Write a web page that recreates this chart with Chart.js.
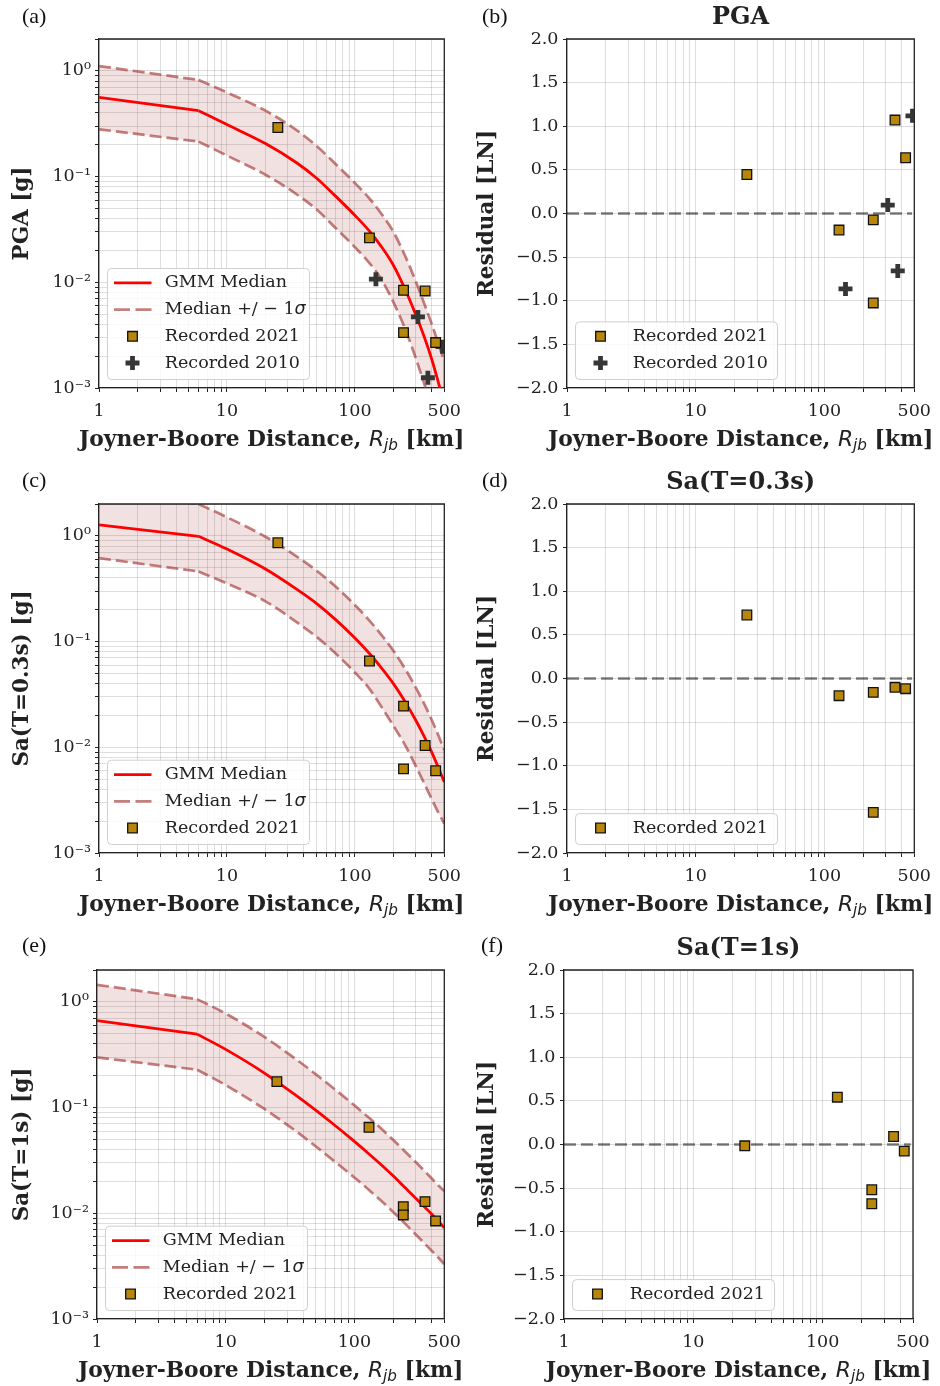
<!DOCTYPE html>
<html><head><meta charset="utf-8">
<script src="https://cdn.jsdelivr.net/npm/chart.js@4.4.1/dist/chart.umd.min.js"></script>
<style>
html,body{margin:0;padding:0;background:#fff;}
body{width:940px;height:1386px;position:relative;overflow:hidden;}
canvas{position:absolute;display:block;}
.tag{position:absolute;font-family:'Liberation Serif',serif;font-size:22px;line-height:22px;color:#111;}
</style></head><body>
<canvas id="ca" width="470" height="465" style="left:0;top:0;width:470px;height:465px"></canvas>
<canvas id="cb" width="470" height="465" style="left:470px;top:0;width:470px;height:465px"></canvas>
<canvas id="cc" width="470" height="465" style="left:0;top:465px;width:470px;height:465px"></canvas>
<canvas id="cd" width="470" height="465" style="left:470px;top:465px;width:470px;height:465px"></canvas>
<canvas id="ce" width="470" height="456" style="left:0;top:930px;width:470px;height:456px"></canvas>
<canvas id="cf" width="470" height="456" style="left:470px;top:930px;width:470px;height:456px"></canvas>
<div class="tag" style="left:22px;top:5px">(a)</div>
<div class="tag" style="left:482px;top:5px">(b)</div>
<div class="tag" style="left:22px;top:469px">(c)</div>
<div class="tag" style="left:482px;top:469px">(d)</div>
<div class="tag" style="left:22px;top:934px">(e)</div>
<div class="tag" style="left:481px;top:934px">(f)</div>
<script>
// ---------------- data ----------------
// distance samples for the GMM curves (km); the first two points form the near-source plateau
const rGrid = [1, 6, 10, 20, 35, 50, 70, 100, 130, 160, 200, 250, 300, 350, 400, 450, 500];

const pgaMedian = [0.56, 0.42, 0.31, 0.205, 0.135, 0.097, 0.066, 0.043, 0.0305, 0.022, 0.0145, 0.0083, 0.0049, 0.0030, 0.00185, 0.00112, 0.00070];
const pgaUpper  = [1.11, 0.82, 0.625, 0.42, 0.275, 0.195, 0.133, 0.087, 0.062, 0.045, 0.030, 0.0172, 0.0101, 0.0062, 0.0040, 0.0026, 0.0018];
const pgaLower  = [0.28, 0.214, 0.158, 0.104, 0.068, 0.049, 0.033, 0.0215, 0.0152, 0.0108, 0.0065, 0.0035, 0.0019, 0.00108, 0.00065, 0.0004, 0.00026];

const sa03Median = [1.27, 0.99, 0.75, 0.485, 0.313, 0.23, 0.163, 0.108, 0.077, 0.057, 0.040, 0.0263, 0.0179, 0.0125, 0.0089, 0.0064, 0.0047];
const sa03Upper  = [2.55, 2.0, 1.5, 0.98, 0.64, 0.47, 0.335, 0.222, 0.158, 0.117, 0.082, 0.054, 0.0365, 0.0255, 0.018, 0.0129, 0.0094];
const sa03Lower  = [0.615, 0.46, 0.355, 0.24, 0.153, 0.111, 0.078, 0.051, 0.0357, 0.0245, 0.016, 0.0102, 0.0066, 0.0045, 0.0032, 0.0024, 0.0019];

const sa1Median = [0.665, 0.495, 0.355, 0.212, 0.131, 0.0944, 0.0684, 0.0479, 0.0364, 0.0291, 0.0226, 0.0173, 0.0139, 0.0115, 0.0098, 0.0084, 0.0073];
const sa1Upper  = [1.45, 1.06, 0.775, 0.465, 0.288, 0.207, 0.15, 0.105, 0.08, 0.064, 0.0495, 0.038, 0.0305, 0.0252, 0.0213, 0.0183, 0.0162];
const sa1Lower  = [0.298, 0.228, 0.163, 0.097, 0.060, 0.043, 0.031, 0.0218, 0.0166, 0.0133, 0.0103, 0.0079, 0.0063, 0.0052, 0.0044, 0.0038, 0.0033];

const rjb2021 = [25, 130, 240, 240, 354, 428];
const pga2021 = [0.291, 0.0263, 0.0084, 0.00334, 0.00828, 0.00269];
const sa03_2021 = [0.86, 0.0655, 0.0245, 0.00625, 0.0104, 0.0060];
const sa1_2021 = [0.176, 0.065, 0.01156, 0.00964, 0.0129, 0.00846];

const rjb2010 = [146, 311, 372, 484];
const pga2010 = [0.0107, 0.0047, 0.00125, 0.00246];

const resPga2021 = [0.447, -0.19, -0.073, -1.025, 1.071, 0.639];
const resPga2010 = [-0.864, 0.096, -0.658, 1.12];
const resSa03_2021 = [0.728, -0.197, -0.159, -1.534, -0.101, -0.117];
const resSa1_2021 = [-0.015, 0.542, -0.519, -0.679, 0.092, -0.076];

const zeroLineX = [1, 480];
const zeroLineY = [0, 0];

const xTickVals = [1, 10, 100, 500];
const xTickLabels = ['1', '10', '100', '500'];
const yLogTickVals = [0.001, 0.01, 0.1, 1];
const yLogTickLabels = ['10\u207B\u00B3', '10\u207B\u00B2', '10\u207B\u00B9', '10\u2070'];
const resTickVals = [-2, -1.5, -1, -0.5, 0, 0.5, 1, 1.5, 2];
const resTickLabels = ['\u22122.0', '\u22121.5', '\u22121.0', '\u22120.5', '0.0', '0.5', '1.0', '1.5', '2.0'];

// ---------------- styles ----------------
const SERIF = "'DejaVu Serif', serif";
const GRID = 'rgba(0,0,0,0.13)';
const INK = '#222';
const TICKFONT = {family: SERIF, size: 17.5};
const GOLD = '#b8860b';
const BAND = 'rgba(165,42,42,0.14)';
const DASHC = 'rgba(160,48,48,0.62)';
const DASH = [12, 5];
const KINK = 2; // the curves are straight up to rGrid[1], smooth afterwards

function pts(xs, ys) { return xs.map((x, i) => ({x: x, y: ys[i]})); }

function logGridValues(lo, hi) {
  const out = [];
  for (let e = -4; e <= 3; e++) {
    for (let m = 1; m <= 9; m++) {
      const v = m * Math.pow(10, e);
      if (v >= lo * (1 - 1e-9) && v <= hi * (1 + 1e-9)) out.push(v);
    }
  }
  return out;
}
function matchLabel(v, vals, labels) {
  for (let i = 0; i < vals.length; i++) {
    if (Math.abs(v - vals[i]) / Math.abs(vals[i] || 1) < 1e-6) return labels[i];
  }
  return '';
}

function xScale(height) {
  return {
    type: 'logarithmic', min: 1, max: 500, bounds: 'data',
    afterBuildTicks: s => {
      s.ticks = logGridValues(1, 500).map(v => ({value: v, lbl: matchLabel(v, xTickVals, xTickLabels)}));
    },
    ticks: {autoSkip: false, maxRotation: 0, minRotation: 0, padding: 9, font: TICKFONT, color: INK,
      callback: (v, i, t) => t[i].lbl},
    grid: {color: GRID, lineWidth: 1, tickLength: 4, tickColor: INK, tickWidth: 1},
    border: {color: INK, width: 1.3},
    title: {display: false},
    afterFit: s => { s.height = height; }
  };
}
function yLogScale(width, title) {
  return {
    type: 'logarithmic', min: 0.001, max: 2, bounds: 'data',
    afterBuildTicks: s => {
      s.ticks = logGridValues(0.001, 2).map(v => ({value: v, lbl: matchLabel(v, yLogTickVals, yLogTickLabels)}));
    },
    ticks: {autoSkip: false, padding: 4, font: TICKFONT, color: INK, callback: (v, i, t) => t[i].lbl},
    grid: {color: GRID, lineWidth: 1, tickLength: 4, tickColor: INK, tickWidth: 1},
    border: {color: INK, width: 1.3},
    title: {display: true, text: title, color: INK, font: {family: SERIF, size: 21.5, weight: 'bold'}, padding: {top: 9.5, bottom: 0}},
    afterFit: s => { s.width = width; }
  };
}
function yResScale(width) {
  return {
    type: 'linear', min: -2, max: 2,
    afterBuildTicks: s => {
      s.ticks = resTickVals.map((v, i) => ({value: v, lbl: resTickLabels[i]}));
    },
    ticks: {autoSkip: false, padding: 4.5, font: TICKFONT, color: INK, callback: (v, i, t) => t[i].lbl},
    grid: {color: GRID, lineWidth: 1, tickLength: 4, tickColor: INK, tickWidth: 1},
    border: {color: INK, width: 1.3},
    title: {display: true, text: 'Residual [LN]', color: INK, font: {family: SERIF, size: 21.5, weight: 'bold'}, padding: {top: 5, bottom: 0}},
    afterFit: s => { s.width = width; }
  };
}

function squareDs(label, xs, ys) {
  return {label: label, data: pts(xs, ys), showLine: false, inLegend: true, order: 0,
    pointStyle: 'rect', pointRadius: 6.8, pointBackgroundColor: GOLD, pointBorderColor: '#111', pointBorderWidth: 1.3,
    borderColor: '#111', backgroundColor: GOLD};
}
function crossDs(label, xs, ys) {
  return {label: label, data: pts(xs, ys), showLine: false, inLegend: true, order: 0,
    pointStyle: 'cross', pointRadius: 7, pointBorderColor: '#363636', pointBorderWidth: 4.8,
    borderColor: '#363636', backgroundColor: '#363636'};
}

// ---------------- drawing helpers ----------------
function drawMarker(ctx, ds, x, y) {
  ctx.save();
  if (ds.pointStyle === 'rect') {
    const h = ds.pointRadius * Math.SQRT1_2;
    ctx.fillStyle = ds.pointBackgroundColor;
    ctx.strokeStyle = ds.pointBorderColor;
    ctx.lineWidth = ds.pointBorderWidth;
    ctx.beginPath(); ctx.rect(x - h, y - h, 2 * h, 2 * h); ctx.fill(); ctx.stroke();
  } else {
    const r = ds.pointRadius;
    ctx.strokeStyle = ds.pointBorderColor;
    ctx.lineWidth = ds.pointBorderWidth;
    ctx.beginPath(); ctx.moveTo(x - r, y); ctx.lineTo(x + r, y); ctx.moveTo(x, y - r); ctx.lineTo(x, y + r); ctx.stroke();
  }
  ctx.restore();
}
function drawLabelText(ctx, text, x, y) {
  const idx = text.indexOf('\u03C3');
  ctx.font = `17.5px ${SERIF}`;
  ctx.fillStyle = INK;
  ctx.textBaseline = 'middle';
  ctx.textAlign = 'left';
  if (idx < 0) { ctx.fillText(text, x, y); return; }
  const a = text.slice(0, idx);
  ctx.fillText(a, x, y);
  const w = ctx.measureText(a).width;
  ctx.font = `italic 17.5px 'DejaVu Sans', sans-serif`;
  ctx.fillText('\u03C3', x + w, y);
}
function drawXTitle(ctx, cx, cy) {
  const size = 21.8;
  const parts = [
    ['Joyner-Boore Distance, ', `bold ${size}px ${SERIF}`, 0],
    ['R', `italic ${size}px 'DejaVu Sans', sans-serif`, 0],
    ['jb', `italic ${size * 0.7}px 'DejaVu Sans', sans-serif`, 5],
    [' [km]', `bold ${size}px ${SERIF}`, 0]
  ];
  ctx.save();
  ctx.fillStyle = INK;
  ctx.textBaseline = 'middle';
  ctx.textAlign = 'left';
  let total = 0;
  const ws = parts.map(p => { ctx.font = p[1]; const w = ctx.measureText(p[0]).width; total += w; return w; });
  let x = cx - total / 2;
  parts.forEach((p, i) => { ctx.font = p[1]; ctx.fillText(p[0], x, cy + p[2]); x += ws[i]; });
  ctx.restore();
}

function drawLegend(ctx, ca, items) {
  const n = items.length;
  const L = ca.left + 8.5, B = ca.bottom - 8.5, W = 202;
  const H = 30.9 + (n - 1) * 26.7, T = B - H;
  ctx.save();
  ctx.beginPath();
  if (ctx.roundRect) ctx.roundRect(L, T, W, H, 4); else ctx.rect(L, T, W, H);
  ctx.fillStyle = 'rgba(255,255,255,0.82)';
  ctx.fill();
  ctx.strokeStyle = '#cfcfcf';
  ctx.lineWidth = 1;
  ctx.stroke();
  items.forEach((ds, i) => {
    const cy = T + 14.4 + i * 26.7;
    if (ds.showLine === false) {
      drawMarker(ctx, ds, L + 25, cy);
    } else {
      ctx.save();
      ctx.beginPath();
      ctx.setLineDash(ds.legendDash || ds.borderDash || []);
      ctx.strokeStyle = ds.borderColor;
      ctx.lineWidth = ds.borderWidth;
      ctx.moveTo(L + 6.5, cy); ctx.lineTo(L + 44, cy);
      ctx.stroke();
      ctx.restore();
    }
    drawLabelText(ctx, ds.label, L + 57.3, cy);
  });
  ctx.restore();
}

const decor = {
  id: 'decor',
  afterDatasetsDraw(chart) {
    const items = chart.data.datasets.filter(d => d.inLegend)
      .sort((a, b) => (a.legendRank || 0) - (b.legendRank || 0));
    drawLegend(chart.ctx, chart.chartArea, items);
  },
  afterDraw(chart) {
    const ctx = chart.ctx, ca = chart.chartArea;
    ctx.save();
    ctx.strokeStyle = INK; ctx.lineWidth = 1.3;
    ctx.beginPath();
    ctx.moveTo(ca.left, ca.top); ctx.lineTo(ca.right, ca.top); ctx.lineTo(ca.right, ca.bottom);
    ctx.stroke();
    ctx.restore();
    drawXTitle(ctx, (ca.left + ca.right) / 2, ca.bottom + 52.7);
  }
};

function leftPanel(id, yTitle, median, upper, lower, extra, g) {
  const nearR = rGrid.slice(0, KINK), farR = rGrid.slice(KINK - 1);
  const band = (ys, part) => part === 'near' ? pts(nearR, ys.slice(0, KINK)) : pts(farR, ys.slice(KINK - 1));
  const dashed = {borderColor: DASHC, borderWidth: 2.7, borderDash: DASH, pointRadius: 0, order: 3};
  const datasets = [
    Object.assign({label: 'upper near', data: band(upper, 'near'), fill: '+1', backgroundColor: BAND}, dashed),
    Object.assign({label: 'lower near', data: band(lower, 'near'), fill: false}, dashed),
    Object.assign({label: 'Median +/ \u2212 1\u03C3', data: band(upper, 'far'), fill: '+1', backgroundColor: BAND,
      cubicInterpolationMode: 'monotone', legendDash: [16, 5.5], inLegend: true, legendRank: 1}, dashed),
    Object.assign({label: 'lower far', data: band(lower, 'far'), fill: false, cubicInterpolationMode: 'monotone'}, dashed),
    {label: 'median near', data: band(median, 'near'), borderColor: '#ff0000', borderWidth: 2.8, pointRadius: 0,
      fill: false, order: 2},
    {label: 'GMM Median', data: band(median, 'far'), borderColor: '#ff0000', borderWidth: 2.8, pointRadius: 0,
      cubicInterpolationMode: 'monotone', fill: false, order: 2, inLegend: true, legendRank: 0}
  ];
  extra.forEach((d, i) => { d.legendRank = 2 + i; datasets.push(d); });
  return new Chart(document.getElementById(id), {
    type: 'line',
    data: {datasets: datasets},
    options: {
      responsive: false, animation: false, events: [],
      layout: {padding: {top: g.top, right: g.pr, left: 0, bottom: 0}},
      plugins: {legend: {display: false}, tooltip: {enabled: false}, title: {display: false}},
      scales: {x: xScale(g.xh), y: yLogScale(g.yw, yTitle)}
    },
    plugins: [decor]
  });
}

function rightPanel(id, title, extra, g) {
  const datasets = [
    {label: 'zero', data: pts(zeroLineX, zeroLineY), borderColor: 'rgba(0,0,0,0.5)', borderWidth: 2.7, borderDash: DASH,
      pointRadius: 0, fill: false, order: 3, inLegend: false}
  ];
  extra.forEach((d, i) => { d.legendRank = i; datasets.push(d); });
  return new Chart(document.getElementById(id), {
    type: 'line',
    data: {datasets: datasets},
    options: {
      responsive: false, animation: false, events: [],
      layout: {padding: {top: 0, right: g.pr, left: 0, bottom: 0}},
      plugins: {legend: {display: false}, tooltip: {enabled: false},
        title: {display: true, text: title, fullSize: false, color: INK,
          font: {family: SERIF, size: 24, weight: 'bold', lineHeight: 1.2},
          padding: {top: g.tt, bottom: g.tb}}},
      scales: {x: xScale(g.xh), y: yResScale(g.yw)}
    },
    plugins: [decor]
  });
}

// ---------------- panels ----------------
leftPanel('ca', 'PGA [g]', pgaMedian, pgaUpper, pgaLower,
  [squareDs('Recorded 2021', rjb2021, pga2021), crossDs('Recorded 2010', rjb2010, pga2010)],
  {top: 39, pr: 24, yw: 99, xh: 77});
rightPanel('cb', 'PGA',
  [squareDs('Recorded 2021', rjb2021, resPga2021), crossDs('Recorded 2010', rjb2010, resPga2010)],
  {tt: 3, tb: 7.2, pr: 25, yw: 97, xh: 77});
leftPanel('cc', 'Sa(T=0.3s) [g]', sa03Median, sa03Upper, sa03Lower,
  [squareDs('Recorded 2021', rjb2021, sa03_2021)],
  {top: 39, pr: 24, yw: 99, xh: 77});
rightPanel('cd', 'Sa(T=0.3s)',
  [squareDs('Recorded 2021', rjb2021, resSa03_2021)],
  {tt: 3, tb: 7.2, pr: 25, yw: 97, xh: 77});
leftPanel('ce', 'Sa(T=1s) [g]', sa1Median, sa1Upper, sa1Lower,
  [squareDs('Recorded 2021', rjb2021, sa1_2021)],
  {top: 40, pr: 25, yw: 97, xh: 67});
rightPanel('cf', 'Sa(T=1s)',
  [squareDs('Recorded 2021', rjb2021, resSa1_2021)],
  {tt: 4, tb: 7.2, pr: 27, yw: 94, xh: 67});
</script>
</body></html>
